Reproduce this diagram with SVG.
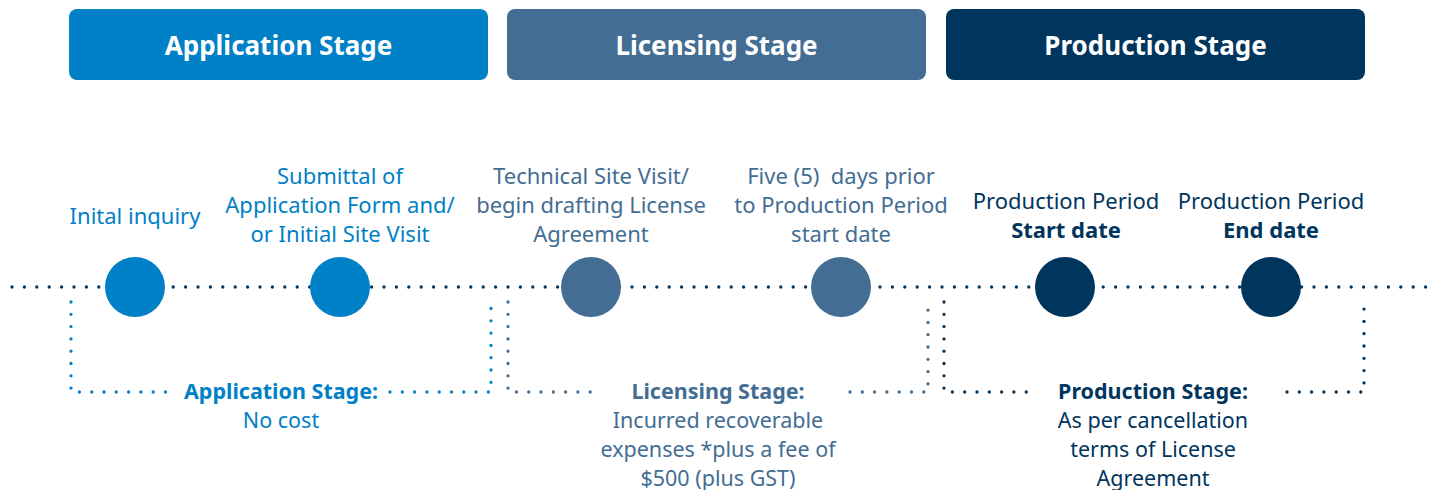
<svg xmlns="http://www.w3.org/2000/svg" width="1433" height="490" viewBox="0 0 1433 490">
<style>
.t{font-family:"Noto Sans","Open Sans","Liberation Sans",sans-serif;font-size:21.5px;text-anchor:middle}
.tt{font-size:22px}
.h{font-family:"Noto Sans","Open Sans","Liberation Sans",sans-serif;font-size:26px;font-weight:bold;fill:#fff;text-anchor:middle}
.b{font-weight:bold}
.app{fill:#0080c6}
.lic{fill:#436d93}
.pro{fill:#00355e}
.dot{fill:none;stroke-width:3.3;stroke-linecap:round;stroke-dasharray:0 12.3}
</style>
<rect width="1433" height="490" fill="#fff"/>
<g id="header-application"><rect x="69" y="9" width="419" height="71" rx="8" class="app"/><text x="278.5" y="55" class="h">Application Stage</text></g>
<g id="header-licensing"><rect x="507" y="9" width="419" height="71" rx="8" class="lic"/><text x="716.5" y="55" class="h">Licensing Stage</text></g>
<g id="header-production"><rect x="946" y="9" width="419" height="71" rx="8" class="pro"/><text x="1155.5" y="55" class="h">Production Stage</text></g>
<g id="connectors">
<path class="dot" stroke="#00355e" d="M12 287H1426" style="stroke-dasharray:0 12.4"/>
<path class="dot" stroke="#0080c6" d="M71 302V392H171M390 392H491V302"/>
<path class="dot" stroke="#436d93" d="M508 302V392H594M850 392H928V302"/>
<path class="dot" stroke="#00355e" d="M944 302V392H1030M1287 392H1364V302"/>
</g>
<g id="node-inquiry"><circle cx="135" cy="287" r="30" class="app"/><text class="t tt app" x="135" y="224">Inital inquiry</text></g>
<g id="node-submittal"><circle cx="340" cy="287" r="30" class="app"/><text class="t tt app"><tspan x="340" y="184">Submittal of</tspan><tspan x="340" y="213">Application Form and/</tspan><tspan x="340" y="242">or Initial Site Visit</tspan></text></g>
<g id="node-technical"><circle cx="591" cy="287" r="30" class="lic"/><text class="t tt lic"><tspan x="591" y="184">Technical Site Visit/</tspan><tspan x="591" y="213">begin drafting License</tspan><tspan x="591" y="242">Agreement</tspan></text></g>
<g id="node-five-days"><circle cx="841" cy="287" r="30" class="lic"/><text class="t tt lic"><tspan x="841" y="184">Five (5)&#160; days prior</tspan><tspan x="841" y="213">to Production Period</tspan><tspan x="841" y="242">start date</tspan></text></g>
<g id="node-start"><circle cx="1065" cy="287" r="30" class="pro"/><text class="t tt pro"><tspan x="1066" y="209">Production Period</tspan><tspan x="1066" y="238" class="b">Start date</tspan></text></g>
<g id="node-end"><circle cx="1271" cy="287" r="30" class="pro"/><text class="t tt pro"><tspan x="1271" y="209">Production Period</tspan><tspan x="1271" y="238" class="b">End date</tspan></text></g>
<g id="cost-application"><text class="t app"><tspan x="281" y="399" class="b">Application Stage:</tspan><tspan x="281" y="428">No cost</tspan></text></g>
<g id="cost-licensing"><text class="t lic"><tspan x="718" y="399" class="b">Licensing Stage:</tspan><tspan x="718" y="428">Incurred recoverable</tspan><tspan x="718" y="457">expenses *plus a fee of</tspan><tspan x="718" y="486">$500 (plus GST)</tspan></text></g>
<g id="cost-production"><text class="t pro"><tspan x="1153" y="399" class="b">Production Stage:</tspan><tspan x="1153" y="428">As per cancellation</tspan><tspan x="1153" y="457">terms of License</tspan><tspan x="1153" y="486">Agreement</tspan></text></g>
</svg>
